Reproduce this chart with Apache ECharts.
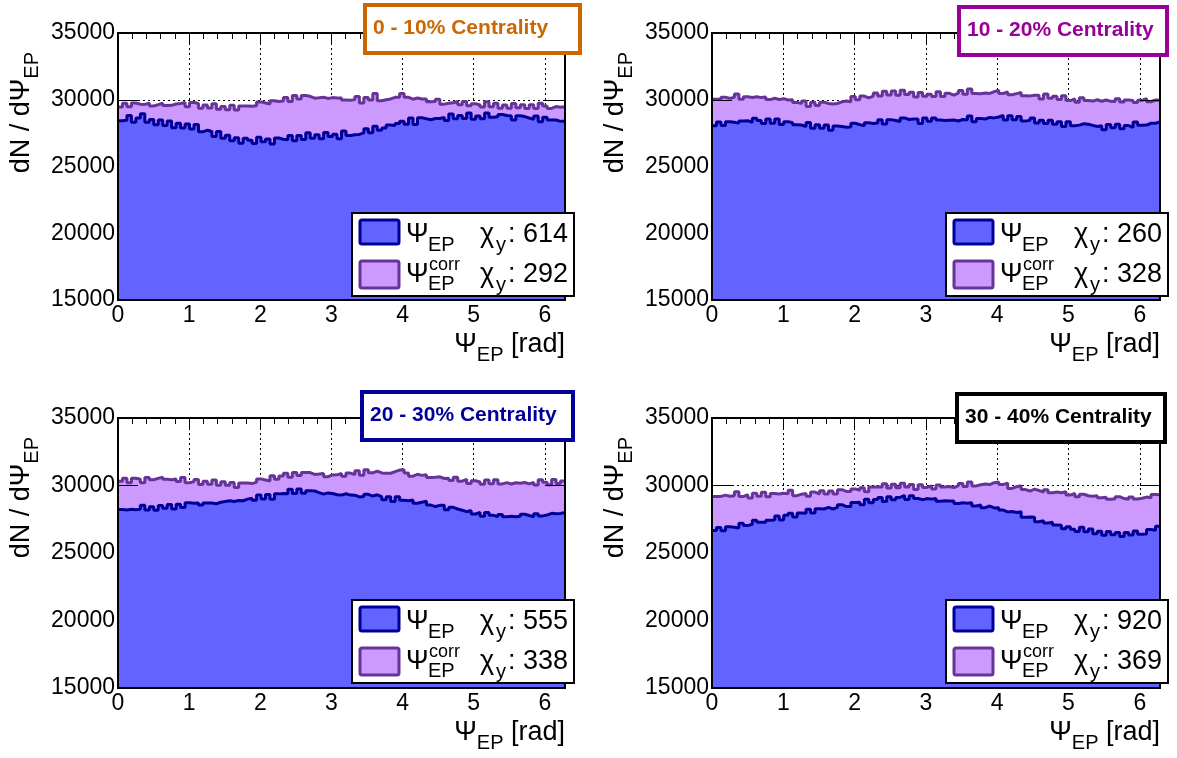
<!DOCTYPE html>
<html>
<head>
<meta charset="utf-8">
<title>Event-plane distributions</title>
<script src="https://cdn.jsdelivr.net/npm/echarts@6/dist/echarts.min.js"></script>
<style>
  html, body { margin: 0; padding: 0; background: #ffffff; }
  #chart { width: 1177px; height: 758px; }
</style>
</head>
<body>
<div id="chart"></div>
<script>
// ---------------------------------------------------------------------------
// Data: 100-bin histograms of the event-plane angle over [0, 2*pi]
// ---------------------------------------------------------------------------
const PHI_MAX = 2 * Math.PI;

const centralityLabels = ['0 - 10% Centrality', '10 - 20% Centrality', '20 - 30% Centrality', '30 - 40% Centrality'];
const centralityColors = ['#cc6600', '#990099', '#000099', '#000000'];
const chiYRaw = [614, 260, 555, 920];
const chiYCorr = [292, 328, 338, 369];
const yTickValues = [15000, 20000, 25000, 30000, 35000];
const xTickValues = [0, 1, 2, 3, 4, 5, 6];

// uncorrected Psi_EP, 0-10%
const rawEP_00_10 = [
  28430, 28460, 28820, 28320, 28640, 28950, 28310, 28520, 28130, 28480,
  28080, 28400, 27910, 28240, 27880, 28180, 27800, 28150, 27600, 27720,
  27620, 27250, 27620, 27120, 27350, 26930, 27160, 26750, 27110, 26960,
  26720, 27200, 26850, 27060, 26690, 27130, 27040, 27000, 27330, 26920,
  27330, 27030, 27520, 27110, 27370, 27080, 27550, 27240, 27420, 27070,
  27660, 27320, 27380, 27400, 27520, 27820, 27520, 28010, 27720, 27880,
  28110, 28070, 28230, 28390, 28170, 28630, 28150, 28660, 28570, 28500,
  28590, 28600, 28680, 28440, 28930, 28580, 28820, 28590, 29000, 28540,
  28790, 28570, 29000, 28690, 28720, 28900, 28820, 28780, 28480, 28800,
  28740, 28630, 28530, 28780, 28350, 28680, 28490, 28480, 28380, 28410
];
// corrected Psi_EP, 0-10%
const corrEP_00_10 = [
  29460, 29730, 29480, 29760, 29660, 29650, 29750, 29540, 29630, 29740,
  29570, 29580, 29680, 29720, 29800, 29480, 29800, 29720, 29370, 29610,
  29390, 29700, 29290, 29490, 29260, 29580, 29240, 29530, 29530, 29510,
  29550, 29840, 29760, 29680, 29930, 29870, 29910, 30160, 29870, 30310,
  30050, 30320, 30260, 30120, 30150, 30190, 30100, 30160, 30140, 30140,
  29990, 29970, 30010, 30250, 29760, 30170, 29990, 30470, 29930, 30000,
  30060, 30180, 30190, 30460, 30180, 30040, 30130, 30050, 30050, 29850,
  29860, 30040, 29670, 29740, 29770, 29870, 29620, 29860, 29550, 29700,
  29610, 29450, 29850, 29480, 29730, 29370, 29610, 29360, 29720, 29410,
  29620, 29350, 29620, 29350, 29730, 29540, 29350, 29490, 29440, 29480
];
// uncorrected Psi_EP, 10-20%
const rawEP_10_20 = [
  28060, 28330, 28080, 28360, 28310, 28250, 28400, 28430, 28310, 28620,
  28440, 28230, 28560, 28240, 28550, 28150, 28360, 28280, 28120, 28110,
  27990, 28300, 27860, 28120, 27860, 28110, 27710, 28030, 28000, 27940,
  27950, 28240, 28140, 28050, 28280, 28220, 28260, 28510, 28190, 28510,
  28450, 28370, 28640, 28520, 28550, 28560, 28230, 28630, 28390, 28640,
  28490, 28440, 28460, 28480, 28410, 28520, 28490, 28790, 28360, 28600,
  28560, 28680, 28640, 28710, 28830, 28490, 28800, 28500, 28750, 28400,
  28460, 28640, 28250, 28460, 28220, 28470, 28170, 28360, 28000, 28350,
  28060, 28100, 28200, 28160, 28080, 28000, 28060, 27760, 28150, 27910,
  28170, 27820, 28070, 27930, 28330, 28090, 28100, 28240, 28240, 28330
];
// corrected Psi_EP, 10-20%
const corrEP_10_20 = [
  30030, 30040, 30190, 30100, 30190, 30430, 30030, 30220, 30170, 30220,
  30160, 30200, 30010, 30110, 30020, 30080, 29980, 30000, 29800, 29710,
  29900, 29500, 29810, 29570, 29820, 29720, 29690, 29720, 29840, 29910,
  29850, 30250, 30000, 30280, 30140, 30280, 30510, 30290, 30630, 30360,
  30650, 30330, 30720, 30390, 30570, 30210, 30550, 30260, 30420, 30240,
  30590, 30240, 30480, 30350, 30490, 30700, 30420, 30810, 30470, 30450,
  30510, 30470, 30610, 30710, 30470, 30580, 30380, 30460, 30540, 30300,
  30290, 30330, 30330, 30060, 30430, 30110, 30270, 30010, 30300, 29940,
  30060, 29820, 30150, 29940, 29900, 30000, 29890, 29980, 29880, 29870,
  30070, 29830, 29980, 29950, 29800, 29960, 30090, 29850, 29980, 29960
];
// uncorrected Psi_EP, 20-30%
const rawEP_20_30 = [
  28230, 28190, 28240, 28200, 28240, 28530, 28180, 28420, 28170, 28520,
  28310, 28600, 28260, 28610, 28370, 28730, 28680, 28700, 28550, 28710,
  28700, 28650, 28760, 28820, 28870, 28820, 28890, 28870, 28990, 29060,
  28900, 29300, 29000, 29330, 28990, 29380, 29410, 29390, 29730, 29410,
  29750, 29430, 29620, 29590, 29470, 29360, 29450, 29410, 29320, 29290,
  29390, 29290, 29280, 29150, 29190, 29350, 29220, 29310, 29170, 28950,
  29160, 28820, 29160, 28910, 28870, 28930, 28680, 28760, 28840, 28550,
  28440, 28530, 28530, 28210, 28380, 28260, 28170, 28060, 28150, 27890,
  28010, 27720, 28000, 27790, 27700, 27850, 27690, 27730, 27680, 27720,
  27870, 27780, 27680, 27900, 27750, 27810, 27940, 27900, 27930, 28010
];
// corrected Psi_EP, 20-30%
const corrEP_20_30 = [
  30310, 30530, 30200, 30540, 30460, 30200, 30600, 30430, 30530, 30620,
  30470, 30430, 30480, 30290, 30600, 30200, 30290, 30450, 30070, 30310,
  30090, 30400, 30010, 30270, 30010, 30230, 29860, 30180, 30180, 30140,
  30250, 30490, 30410, 30330, 30730, 30470, 30710, 30910, 30620, 30960,
  30750, 30970, 30960, 30820, 30850, 30890, 30650, 30780, 30790, 30890,
  30690, 30920, 30810, 31100, 30760, 31170, 30940, 31070, 30930, 30900,
  30910, 31030, 31140, 31160, 30930, 30690, 30830, 30750, 30800, 30600,
  30610, 30640, 30520, 30540, 30370, 30620, 30320, 30460, 30150, 30350,
  30260, 30100, 30400, 30130, 30430, 30120, 30210, 30110, 30200, 30160,
  30220, 30120, 30220, 30030, 30430, 30240, 30050, 30440, 30140, 30330
];
// uncorrected Psi_EP, 30-40%
const rawEP_30_40 = [
  26660, 26880, 26650, 26940, 26910, 26850, 27200, 27030, 27130, 27420,
  27270, 27280, 27430, 27440, 27750, 27450, 27790, 27950, 27670, 27960,
  27940, 28250, 27960, 28270, 28260, 28380, 28260, 28380, 28580, 28440,
  28450, 28740, 28760, 28580, 28980, 28720, 28960, 29110, 28820, 29160,
  28950, 29120, 29260, 28970, 29250, 29040, 28950, 29030, 28990, 29040,
  28840, 28870, 28860, 28850, 28660, 28720, 28690, 28720, 28480, 28550,
  28360, 28480, 28340, 28360, 28180, 28040, 28080, 28000, 28050, 27650,
  27660, 27640, 27320, 27390, 27220, 27270, 27070, 27060, 26800, 26950,
  26760, 26600, 26900, 26580, 26780, 26420, 26610, 26310, 26600, 26360,
  26520, 26220, 26520, 26330, 26630, 26390, 26400, 26740, 26690, 26980
];
// corrected Psi_EP, 30-40%
const corrEP_30_40 = [
  29180, 29190, 29290, 29200, 29240, 29530, 29180, 29320, 29070, 29420,
  29210, 29500, 29160, 29410, 29370, 29430, 29380, 29650, 29250, 29360,
  29400, 29200, 29510, 29370, 29620, 29370, 29590, 29370, 29690, 29560,
  29550, 29750, 29650, 29830, 29540, 29880, 29910, 29890, 30130, 29810,
  30100, 29830, 30170, 29890, 30070, 29710, 30050, 29860, 29970, 29740,
  30040, 29890, 29930, 29850, 29990, 30150, 29920, 30260, 29970, 30050,
  30110, 30070, 30210, 30260, 30070, 30180, 29780, 29910, 29990, 29700,
  29590, 29730, 29630, 29510, 29680, 29460, 29520, 29460, 29550, 29290,
  29410, 29170, 29350, 29240, 29200, 29250, 29090, 29130, 28980, 29020,
  29170, 29030, 28980, 29150, 29000, 29060, 29140, 29100, 29330, 29310
];

const rawSets = [rawEP_00_10, rawEP_10_20, rawEP_20_30, rawEP_30_40];
const corrSets = [corrEP_00_10, corrEP_10_20, corrEP_20_30, corrEP_30_40];

// ---------------------------------------------------------------------------
// Styling and layout
// ---------------------------------------------------------------------------
const FONT = 'Liberation Sans';
const RAW_FILL = '#6363ff';
const RAW_LINE = '#000099';
const CORR_FILL = '#cc99ff';
const CORR_LINE = '#663399';

const gridBoxes = [
  { left: 118, top: 33, width: 447, height: 267 },
  { left: 712, top: 33, width: 448, height: 267 },
  { left: 118, top: 418, width: 447, height: 270 },
  { left: 712, top: 418, width: 448, height: 270 }
];
const legendOrigins = [[352, 213], [946, 213], [352, 600], [946, 600]];
const labelBoxes = [
  { left: 365, top: 5, padRight: 32 },
  { left: 959, top: 7, padRight: 14 },
  { left: 362, top: 392, padRight: 17 },
  { left: 957, top: 394, padRight: 14 }
];

// bin edges -> step points (last edge repeats the final bin content)
function histPoints(values) {
  const w = PHI_MAX / values.length;
  const pts = values.map((v, i) => [i * w, v]);
  pts.push([PHI_MAX, values[values.length - 1]]);
  return pts;
}

const subRich = {
  m: { fontSize: 27, fontFamily: FONT, color: '#000' },
  s: { fontSize: 20, fontFamily: FONT, color: '#000', padding: [20, 0, 0, 0] }
};

const xAxes = [], yAxes = [], series = [], titles = [], graphics = [];

for (let k = 0; k < 4; k++) {
  const xb = xAxes.length;
  const yb = yAxes.length;
  const yMin = yTickValues[0], yMax = yTickValues[yTickValues.length - 1];
  const yStep = yTickValues[1] - yTickValues[0];
  const xStep = xTickValues[1] - xTickValues[0];

  // labelled axis with dotted grid (drawn beneath the histograms)
  xAxes.push({
    type: 'value', gridIndex: k, position: 'bottom', min: 0, max: PHI_MAX, interval: xStep, z: 0,
    axisLine: { show: false, onZero: false },
    axisTick: { show: false },
    axisLabel: {
      show: true, fontSize: 23, fontFamily: FONT, color: '#000', margin: 4, showMaxLabel: false,
      formatter: v => (xTickValues.indexOf(v) >= 0 ? String(v) : '')
    },
    splitLine: { show: true, lineStyle: { color: '#000', width: 1, type: [2, 3] } },
    name: '{m|Ψ}{s|EP}{m| [rad]}',
    nameLocation: 'end', nameGap: 0, nameMoveOverlap: false,
    nameTextStyle: { align: 'right', verticalAlign: 'top', padding: [25, 0, 0, 0], rich: subRich }
  });
  // minor ticks along the top edge
  xAxes.push({
    type: 'value', gridIndex: k, position: 'top', min: 0, max: PHI_MAX, interval: 0.2, z: 3,
    axisLine: { show: false, onZero: false },
    axisTick: { show: true, inside: true, length: 6, lineStyle: { color: '#000', width: 1 } },
    axisLabel: { show: false }, splitLine: { show: false }
  });
  // major ticks along the top edge
  xAxes.push({
    type: 'value', gridIndex: k, position: 'top', min: 0, max: PHI_MAX, interval: xStep, z: 3,
    axisLine: { show: false, onZero: false },
    axisTick: { show: true, inside: true, length: 12, lineStyle: { color: '#000', width: 1 } },
    axisLabel: { show: false }, splitLine: { show: false }
  });

  yAxes.push({
    type: 'value', gridIndex: k, position: 'left', min: yMin, max: yMax, interval: yStep, z: 0,
    axisLine: { show: false, onZero: false },
    axisTick: { show: false },
    axisLabel: { show: true, fontSize: 23, fontFamily: FONT, color: '#000', margin: 3, formatter: v => String(v) },
    splitLine: { show: true, lineStyle: { color: '#000', width: 1, type: [2, 3] } },
    name: '{m|dN / dΨ}{s|EP}',
    nameLocation: 'end', nameRotate: 90, nameGap: -19, nameMoveOverlap: false,
    nameTextStyle: { align: 'right', verticalAlign: 'bottom', padding: [0, 0, 76, 0], rich: subRich }
  });
  ['left', 'right'].forEach(pos => {
    yAxes.push({
      type: 'value', gridIndex: k, position: pos, min: yMin, max: yMax, interval: yStep, z: 3,
      axisLine: { show: false, onZero: false },
      axisTick: { show: true, inside: true, length: 20, lineStyle: { color: '#000', width: 1 } },
      axisLabel: { show: false }, splitLine: { show: false }
    });
  });

  series.push({
    name: 'corr' + k, type: 'line', xAxisIndex: xb, yAxisIndex: yb,
    data: histPoints(corrSets[k]), step: 'end', symbol: 'none', silent: true, z: 2,
    lineStyle: { color: CORR_LINE, width: 3 },
    areaStyle: { color: CORR_FILL, opacity: 1, origin: 'start' }
  });
  series.push({
    name: 'raw' + k, type: 'line', xAxisIndex: xb, yAxisIndex: yb,
    data: histPoints(rawSets[k]), step: 'end', symbol: 'none', silent: true, z: 4,
    lineStyle: { color: RAW_LINE, width: 3 },
    areaStyle: { color: RAW_FILL, opacity: 1, origin: 'start' }
  });

  titles.push({
    text: centralityLabels[k], left: labelBoxes[k].left, top: labelBoxes[k].top, z: 10,
    padding: [13, labelBoxes[k].padRight, 14, 8],
    backgroundColor: '#ffffff', borderColor: centralityColors[k], borderWidth: 4,
    textStyle: { color: centralityColors[k], fontSize: 21, fontWeight: 'bold', fontFamily: FONT }
  });

  // legend box
  const [lx, ly] = legendOrigins[k];
  const txt = (text, x, y, size, align) => ({
    type: 'text', z: 21, silent: true, x: x, y: y,
    style: { text: text, fill: '#000', fontSize: size, fontFamily: FONT, align: align || 'left', verticalAlign: 'middle' }
  });
  graphics.push({
    type: 'group', x: lx, y: ly, silent: true,
    children: [
      { type: 'rect', z: 20, shape: { x: 0, y: 0, width: 222, height: 83 }, style: { fill: '#fff', stroke: '#000', lineWidth: 2 } },
      { type: 'rect', z: 21, shape: { x: 8, y: 7, width: 39, height: 24, r: 2 }, style: { fill: RAW_FILL, stroke: RAW_LINE, lineWidth: 3 } },
      { type: 'rect', z: 21, shape: { x: 8, y: 48, width: 39, height: 27, r: 2 }, style: { fill: CORR_FILL, stroke: CORR_LINE, lineWidth: 3 } },
      txt('Ψ', 54, 22, 27),
      txt('EP', 76, 32, 20),
      txt('χ', 128, 22, 27),
      txt('y', 144, 32, 20),
      txt(': ' + chiYRaw[k], 216, 22, 27, 'right'),
      txt('Ψ', 54, 62, 27),
      txt('corr', 77, 52, 18),
      txt('EP', 76, 71, 20),
      txt('χ', 128, 62, 27),
      txt('y', 144, 72, 20),
      txt(': ' + chiYCorr[k], 216, 62, 27, 'right')
    ]
  });
}

const chart = echarts.init(document.getElementById('chart'), null, { renderer: 'canvas' });
chart.setOption({
  animation: false,
  backgroundColor: '#ffffff',
  textStyle: { fontFamily: FONT },
  title: titles,
  grid: gridBoxes.map(g => Object.assign({
    show: true, z: 5, containLabel: false, outerBoundsMode: 'none',
    borderColor: '#000', borderWidth: 2, backgroundColor: 'transparent'
  }, g)),
  xAxis: xAxes,
  yAxis: yAxes,
  series: series,
  graphic: { elements: graphics }
});
</script>
</body>
</html>
